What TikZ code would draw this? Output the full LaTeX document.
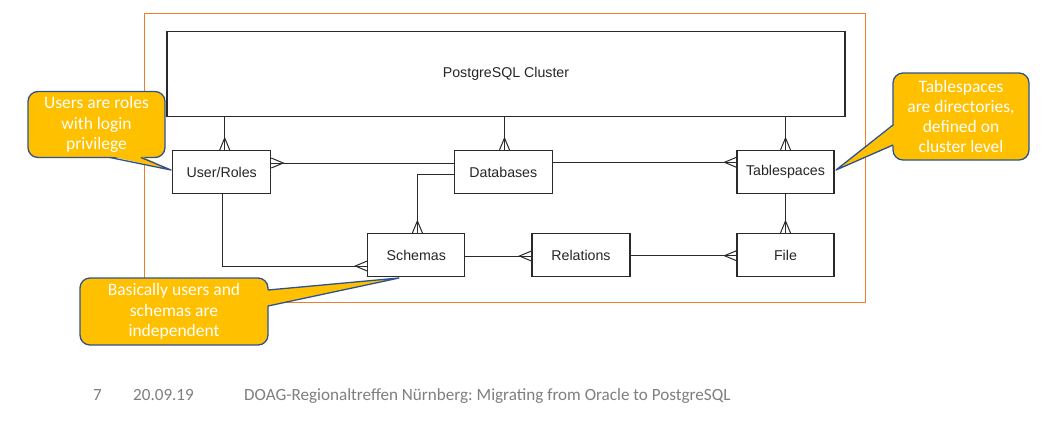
\documentclass[tikz,border=0pt]{standalone}
\usepackage{fontspec}
\setmainfont{Liberation Sans}
\newfontfamily\calfont{Carlito}
\usetikzlibrary{arrows.meta,calc}
\frenchspacing
\definecolor{calloutfill}{HTML}{FFC000}
\definecolor{calloutline}{HTML}{2F528F}
\definecolor{frameorange}{HTML}{ED7D31}
\definecolor{footgray}{HTML}{7F7F7F}
\definecolor{boxline}{HTML}{2A2A2A}
\pgfdeclarearrow{
  name = Crow,
  parameters = {\the\pgfarrowlength,\the\pgfarrowwidth},
  setup code = {
    \pgfarrowssettipend{0pt}
    \pgfarrowssetlineend{0pt}
    \pgfarrowssetbackend{-\pgfarrowlength}
    \pgfarrowssetvisualbackend{-\pgfarrowlength}
    \pgfarrowsupperhullpoint{0pt}{.5\pgfarrowwidth}
    \pgfarrowsupperhullpoint{-\pgfarrowlength}{0pt}
    \pgfarrowssavethe\pgfarrowlength
    \pgfarrowssavethe\pgfarrowwidth
  },
  drawing code = {
    \pgfsetdash{}{0pt}
    \pgfpathmoveto{\pgfqpoint{0pt}{.5\pgfarrowwidth}}
    \pgfpathlineto{\pgfqpoint{-\pgfarrowlength}{0pt}}
    \pgfpathlineto{\pgfqpoint{0pt}{-.5\pgfarrowwidth}}
    \pgfusepathqstroke
  },
  defaults = {length = 12pt, width = 10pt}
}
\begin{document}
\frenchspacing
\begin{tikzpicture}[x=1pt,y=-1pt,
  ent/.style={draw=boxline, line width=1.1pt, fill=white, inner sep=0pt,
    minimum height=43, font=\fontsize{14.2}{16}\selectfont, text=black!85},
  conn/.style={draw=boxline, line width=1pt},
  many/.style={conn, -{Crow[length=12pt,width=10pt]}},
  callout/.style={draw=calloutline, line width=1.3pt, fill=calloutfill,
    rounded corners=10pt, inner sep=0pt, align=center, text=white,
    font=\calfont\fontsize{17.5}{20.3}\selectfont},
  ptrfill/.style={fill=calloutfill},
  ptrline/.style={draw=calloutline, line width=1.3pt, line join=round},
  foot/.style={anchor=base west, text=footgray, inner sep=0pt,
    font=\calfont\fontsize{17.1}{20}\selectfont\frenchspacing}]
\useasboundingbox (0,0) rectangle (1064,432);
\fill[white] (0,0) rectangle (1064,432);
% frame
\draw[frameorange, line width=1pt] (144.5,13) rectangle (865,302.5);
% entities
\node[ent, minimum width=678, minimum height=85] (cl) at (506,74.2) {PostgreSQL Cluster};
\node[ent, minimum width=98] (ur) at (221.7,172) {User/Roles};
\node[ent, minimum width=97.5] (db) at (503.3,172) {Databases};
\node[ent, minimum width=97] (ts) at (785.5,172) {Tablespaces};
\node[ent, minimum width=97] (sc) at (416.3,255) {Schemas};
\node[ent, minimum width=98] (rel) at (581,255) {Relations};
\node[ent, minimum width=97] (fi) at (785.5,255) {File};
% helper points
\coordinate (urTop) at ($(ur.north)+(3,0)$);
\coordinate (dbTop) at ($(db.north)+(1.2,0)$);
\coordinate (urEast) at ($(ur.east)+(0,-9)$);
\coordinate (tsWest) at ($(ts.west)+(0,-9.7)$);
\coordinate (dbWest2) at ($(db.west)+(0,2.3)$);
\coordinate (scTop) at ($(sc.north)+(1.1,0)$);
\coordinate (urBot) at ($(ur.south)+(0.8,0)$);
\coordinate (scWest) at ($(sc.west)+(0,11)$);
\coordinate (relWest) at ($(rel.west)+(0,1)$);
\coordinate (fiWest) at ($(fi.west)+(0,0.7)$);
% connectors
\draw[many] (cl.south -| urTop) -- (urTop);
\draw[many] (cl.south -| dbTop) -- (dbTop);
\draw[many] (cl.south -| ts.north) -- (ts.north);
\draw[many] (db.west |- urEast) -- (urEast);
\draw[many] (db.east |- tsWest) -- (tsWest);
\draw[many] (dbWest2) -| (scTop);
\draw[many] (urBot) |- (scWest);
\draw[many] (sc.east |- relWest) -- (relWest);
\draw[many] (rel.east |- fiWest) -- (fiWest);
\draw[many] (ts.south) -- (fi.north);
% callouts
\node[callout, minimum width=137, minimum height=66] (c1) at (96.5,124.5) {Users are roles\\with login\\privilege};
\coordinate (t1) at (171,170);
\fill[ptrfill] (110,156) -- (t1) -- (141,156) -- cycle;
\draw[ptrline] (110,157.5) -- (t1) -- (141,157.5);
\node[callout, minimum width=188, minimum height=67] (c2) at (174,311.5) {Basically users and\\schemas are\\independent};
\coordinate (t2) at (399,278);
\fill[ptrfill] (266.5,290) -- (t2) -- (266.5,306) -- cycle;
\draw[ptrline] (268,290) -- (t2) -- (268,306);
\node[callout, minimum width=136, minimum height=87] (c3) at (961,116.5) {Tablespaces\\are directories,\\defined on\\cluster level};
\coordinate (t3) at (836,170);
\fill[ptrfill] (894.5,125) -- (t3) -- (894.5,145) -- cycle;
\draw[ptrline] (893,125) -- (t3) -- (893,145);
% footer
\node[foot] (pg) at (93,400.5) {7};
\node[foot] (dt) at (133,400.5) {20.09.19};
\node[foot] (ti) at (244,400.5) {DOAG-Regionaltreffen Nürnberg: Migrating from Oracle to PostgreSQL};
\end{tikzpicture}
\end{document}
